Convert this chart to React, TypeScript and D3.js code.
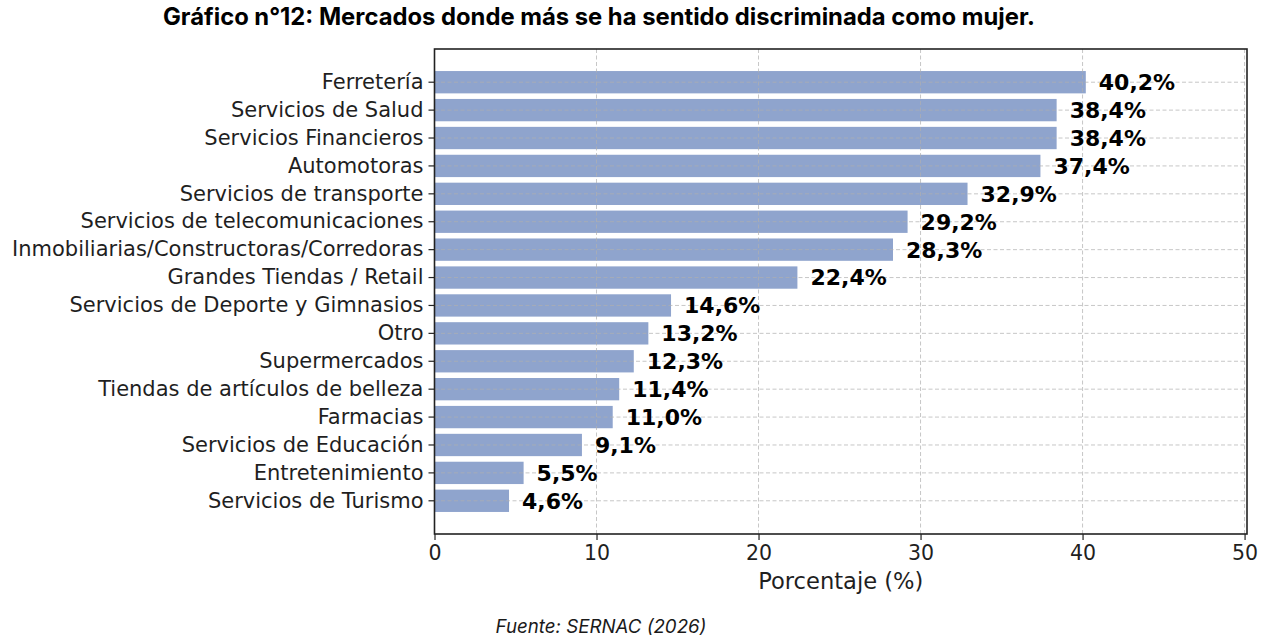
import { useEffect, useRef } from "react";
import * as d3 from "d3";

// Categories, top to bottom
const categories: string[] = [
  "Ferretería",
  "Servicios de Salud",
  "Servicios Financieros",
  "Automotoras",
  "Servicios de transporte",
  "Servicios de telecomunicaciones",
  "Inmobiliarias/Constructoras/Corredoras",
  "Grandes Tiendas / Retail",
  "Servicios de Deporte y Gimnasios",
  "Otro",
  "Supermercados",
  "Tiendas de artículos de belleza",
  "Farmacias",
  "Servicios de Educación",
  "Entretenimiento",
  "Servicios de Turismo",
];

const values: number[] = [
  40.2, 38.4, 38.4, 37.4, 32.9, 29.2, 28.3, 22.4, 14.6, 13.2, 12.3, 11.4, 11.0,
  9.1, 5.5, 4.6,
];

const xTicks: number[] = [0, 10, 20, 30, 40, 50];

const title =
  "Gráfico n°12: Mercados donde más se ha sentido discriminada como mujer.";
const source = "Fuente: SERNAC (2026)";
const xLabel = "Porcentaje (%)";

function renderChart(svgEl: SVGSVGElement) {
  const svg = d3.select(svgEl);
  svg.selectAll("*").remove();

  const width = 1267;
  const height = 643;
  const margin = { top: 49, right: 20, bottom: 109, left: 434.5 };
  const plotRight = 1247;
  const chartWidth = plotRight - margin.left;
  const chartHeight = height - margin.top - margin.bottom;

  svg.attr("width", width).attr("height", height);

  const axisFont = "'DejaVu Sans', Verdana, sans-serif";
  const textColor = "#1f1f1f";

  // Title
  svg
    .append("text")
    .attr("x", 599)
    .attr("y", 25)
    .attr("text-anchor", "middle")
    .style("font-family", "Inter, 'Noto Sans', sans-serif")
    .style("font-weight", "700")
    .style("font-size", "23.8px")
    .attr("fill", "#000")
    .text(title);

  const g = svg
    .append("g")
    .attr("transform", `translate(${margin.left},${margin.top})`);

  const xScale = d3.scaleLinear().domain([0, 50.15]).range([0, chartWidth]);

  const yScale = d3
    .scaleBand<string>()
    .domain(categories)
    .range([0, chartHeight])
    .paddingInner(0.2)
    .paddingOuter(0.79);

  // Bars
  g.selectAll("rect.bar")
    .data(categories)
    .enter()
    .append("rect")
    .attr("class", "bar")
    .attr("x", xScale(0))
    .attr("y", (d) => yScale(d) as number)
    .attr("width", (_, i) => xScale(values[i]) - xScale(0))
    .attr("height", yScale.bandwidth())
    .attr("fill", "#8fa4cd");

  // Grid (drawn above bars, faint)
  const grid = g.append("g").attr("class", "grid");
  grid
    .selectAll("line.vgrid")
    .data(xTicks)
    .enter()
    .append("line")
    .attr("x1", (d) => xScale(d))
    .attr("x2", (d) => xScale(d))
    .attr("y1", 0)
    .attr("y2", chartHeight)
    .attr("stroke", "#b0b0b0")
    .attr("stroke-width", 1)
    .attr("stroke-dasharray", "4,2.5")
    .attr("opacity", 0.7);
  grid
    .selectAll("line.hgrid")
    .data(categories)
    .enter()
    .append("line")
    .attr("x1", 0)
    .attr("x2", chartWidth)
    .attr("y1", (d) => (yScale(d) as number) + yScale.bandwidth() / 2)
    .attr("y2", (d) => (yScale(d) as number) + yScale.bandwidth() / 2)
    .attr("stroke", "#b0b0b0")
    .attr("stroke-width", 1)
    .attr("stroke-dasharray", "4,2.5")
    .attr("opacity", 0.7);

  // Value labels
  g.selectAll("text.value")
    .data(categories)
    .enter()
    .append("text")
    .attr("class", "value")
    .attr("x", (_, i) => xScale(values[i]) + 13)
    .attr("y", (d) => (yScale(d) as number) + yScale.bandwidth() / 2)
    .attr("dy", "0.36em")
    .style("font-family", axisFont)
    .style("font-weight", "700")
    .style("font-size", "22px")
    .attr("fill", "#000")
    .text((_, i) => `${values[i].toFixed(1).replace(".", ",")}%`);

  // X axis
  const xAxis = d3
    .axisBottom(xScale)
    .tickValues(xTicks)
    .tickSize(6)
    .tickPadding(5)
    .tickFormat((d) => `${d}`);
  const xAxisGroup = g
    .append("g")
    .attr("transform", `translate(0,${chartHeight})`)
    .call(xAxis);
  xAxisGroup.select(".domain").remove();
  xAxisGroup.selectAll("line").attr("stroke", "#222").attr("stroke-width", 1.2);
  xAxisGroup
    .selectAll("text")
    .style("font-family", axisFont)
    .style("font-size", "20.5px")
    .attr("fill", textColor);

  g.append("text")
    .attr("x", chartWidth / 2)
    .attr("y", chartHeight + 55)
    .attr("text-anchor", "middle")
    .style("font-family", axisFont)
    .style("font-size", "22.6px")
    .attr("fill", textColor)
    .text(xLabel);

  // Y axis
  const yAxis = d3.axisLeft(yScale).tickSize(6).tickPadding(5);
  const yAxisGroup = g.append("g").call(yAxis);
  yAxisGroup.select(".domain").remove();
  yAxisGroup.selectAll("line").attr("stroke", "#222").attr("stroke-width", 1.2);
  yAxisGroup
    .selectAll("text")
    .style("font-family", axisFont)
    .style("font-size", "21px")
    .attr("fill", textColor);

  // Frame
  g.append("rect")
    .attr("x", 0)
    .attr("y", 0)
    .attr("width", chartWidth)
    .attr("height", chartHeight)
    .attr("fill", "none")
    .attr("stroke", "#222")
    .attr("stroke-width", 1.6);

  // Source
  svg
    .append("text")
    .attr("x", 601)
    .attr("y", 633)
    .attr("text-anchor", "middle")
    .style("font-family", "Inter, 'Noto Sans', sans-serif")
    .style("font-style", "italic")
    .style("font-size", "18.7px")
    .attr("fill", "#1a1a1a")
    .text(source);
}

export default function App() {
  const svgRef = useRef<SVGSVGElement>(null);

  useEffect(() => {
    document.body.style.margin = "0";
    if (svgRef.current) renderChart(svgRef.current);
  }, []);

  return (
    <div style={{ background: "#fff" }}>
      <svg ref={svgRef} style={{ display: "block" }} />
    </div>
  );
}
